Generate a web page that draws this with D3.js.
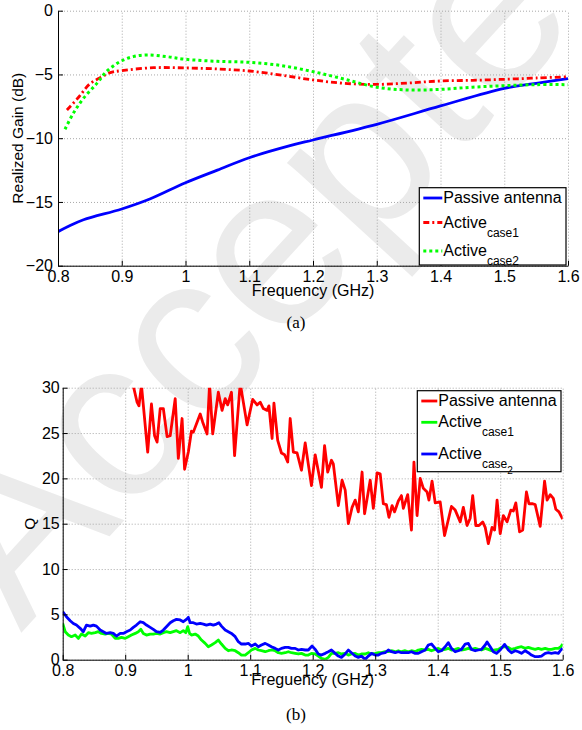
<!DOCTYPE html>
<html>
<head>
<meta charset="utf-8">
<script src="https://cdn.jsdelivr.net/npm/d3@7"></script>
<style>
  body { margin: 0; background: #fff; }
  svg text { font-family: "Liberation Sans", Arial, Helvetica, sans-serif; fill: #000; }
</style>
</head>
<body>
<svg id="chart" width="582" height="730"></svg>
<script>
// ---- data (a): realized gain ----
var freqTicks = [0.8, 0.9, 1.0, 1.1, 1.2, 1.3, 1.4, 1.5, 1.6];
var gainTicks = [0, -5, -10, -15, -20];
var qTicks = [0, 5, 10, 15, 20, 25, 30];

var passiveFreq = [0.8, 0.815, 0.84, 0.9, 0.944, 1.0, 1.05, 1.1, 1.164, 1.2, 1.3, 1.4, 1.5, 1.55, 1.6];
var passiveGain = [-17.33, -16.95, -16.4, -15.55, -14.77, -13.49, -12.5, -11.53, -10.59, -10.14, -8.91, -7.47, -6.09, -5.7, -5.33];

var case1Freq = [0.814, 0.833, 0.849, 0.866, 0.882, 0.9, 0.95, 1.0, 1.05, 1.1, 1.15, 1.2, 1.25, 1.3, 1.35, 1.4, 1.45, 1.5, 1.55, 1.6];
var case1Gain = [-7.79, -6.75, -5.78, -5.25, -4.86, -4.7, -4.47, -4.49, -4.57, -4.73, -5.05, -5.43, -5.7, -5.78, -5.67, -5.51, -5.46, -5.38, -5.28, -5.18];

var case2Freq = [0.811, 0.824, 0.84, 0.861, 0.876, 0.897, 0.918, 0.94, 0.97, 1.0, 1.05, 1.1, 1.15, 1.2, 1.25, 1.3, 1.35, 1.4, 1.45, 1.5, 1.55, 1.6];
var case2Gain = [-9.3, -8.05, -6.87, -5.7, -4.78, -4.0, -3.6, -3.47, -3.6, -3.81, -3.97, -4.05, -4.3, -4.78, -5.38, -6.0, -6.22, -6.17, -6.0, -5.88, -5.8, -5.8];

// ---- data (b): Q factor ----
var qPassiveFreq = [0.905, 0.913, 0.919, 0.922, 0.926, 0.936, 0.942, 0.947, 0.951, 0.956, 0.961, 0.967, 0.972, 0.98, 0.985, 0.991, 0.995,
  1.001, 1.006, 1.009, 1.015, 1.02, 1.024, 1.031, 1.035, 1.04, 1.049, 1.055, 1.06, 1.064, 1.07, 1.075, 1.084, 1.095,
  1.104, 1.111, 1.116, 1.121, 1.127, 1.13, 1.135, 1.138, 1.144, 1.15, 1.155, 1.16, 1.164, 1.169, 1.175, 1.182, 1.188, 1.198,
  1.204, 1.214, 1.219, 1.224, 1.23, 1.233, 1.241, 1.247, 1.252, 1.257, 1.263, 1.268, 1.273, 1.279, 1.283, 1.292, 1.297,
  1.303, 1.308, 1.313, 1.318, 1.322, 1.327, 1.331, 1.337, 1.342, 1.345, 1.352, 1.358, 1.362, 1.367, 1.372, 1.377, 1.383, 1.386, 1.391, 1.396,
  1.404, 1.411, 1.422, 1.428, 1.436, 1.441, 1.447, 1.452, 1.456, 1.461, 1.466, 1.472, 1.476, 1.481, 1.487, 1.491, 1.495,
  1.5, 1.505, 1.511, 1.517, 1.521, 1.525, 1.531, 1.536, 1.542, 1.546, 1.552, 1.556, 1.564, 1.571, 1.575, 1.58, 1.585, 1.589, 1.594, 1.6];
var qPassive = [32, 30.2, 28.4, 28.0, 30.3, 22.9, 28.2, 24.7, 24.0, 27.7, 27.7, 24.6, 24.7, 28.8, 22.2, 26.6, 21.0,
  22.9, 25.2, 25.1, 26.2, 27.1, 26.2, 24.9, 30.4, 24.9, 29.5, 27.5, 28.8, 28.1, 29.5, 22.5, 30.5, 25.9,
  28.7, 28.1, 28.4, 27.7, 27.5, 28.0, 24.4, 28.3, 24.2, 22.8, 22.6, 21.8, 26.6, 22.9, 22.8, 20.9, 23.9, 19.2,
  22.6, 19.0, 23.6, 20.7, 22.0, 21.6, 17.0, 19.8, 18.7, 15.0, 16.8, 17.6, 16.3, 20.7, 16.1, 19.8, 16.7,
  20.6, 20.5, 17.2, 17.1, 15.7, 17.0, 16.3, 17.5, 18.1, 16.7, 18.2, 14.3, 21.8, 15.9, 20.0, 18.9, 18.5, 17.6, 19.7, 17.3,
  17.4, 13.7, 16.9, 16.5, 15.2, 16.8, 14.8, 15.6, 18.1, 14.8, 14.8, 15.2, 14.6, 12.8, 14.6, 14.3, 17.6,
  13.9, 15.9, 15.2, 16.5, 16.4, 17.3, 14.1, 14.3, 18.5, 17.2, 17.2, 17.1, 14.7, 19.7, 17.6, 18.2, 17.8, 16.6, 16.3, 15.5];

var qCase1Freq = [0.8, 0.804, 0.809, 0.814, 0.82, 0.825, 0.83, 0.836, 0.841, 0.846, 0.852, 0.857, 0.862, 0.868, 0.873, 0.878,
  0.884, 0.889, 0.894, 0.9, 0.905, 0.91, 0.916, 0.921, 0.925, 0.929, 0.934, 0.94, 0.945, 0.95, 0.956, 0.961, 0.966, 0.972,
  0.977, 0.982, 0.988, 0.993, 0.997, 1.0, 1.003, 1.006, 1.012, 1.017, 1.022, 1.028, 1.033, 1.038, 1.044, 1.049, 1.054,
  1.06, 1.065, 1.07, 1.076, 1.081, 1.086, 1.092, 1.097, 1.102, 1.108, 1.113, 1.118, 1.124, 1.129, 1.134, 1.14, 1.145,
  1.15, 1.156, 1.161, 1.166, 1.172, 1.177, 1.182, 1.188, 1.193, 1.198, 1.204, 1.209, 1.214, 1.22, 1.225, 1.23, 1.236,
  1.241, 1.246, 1.252, 1.257, 1.262, 1.268, 1.273, 1.278, 1.284, 1.289, 1.294, 1.3, 1.305, 1.31, 1.316, 1.321, 1.326,
  1.332, 1.337, 1.342, 1.348, 1.353, 1.358, 1.364, 1.369, 1.374, 1.38, 1.385, 1.39, 1.396, 1.401, 1.406, 1.412, 1.417,
  1.422, 1.428, 1.433, 1.438, 1.444, 1.449, 1.454, 1.46, 1.465, 1.47, 1.476, 1.481, 1.486, 1.492, 1.497, 1.502, 1.508,
  1.513, 1.518, 1.524, 1.529, 1.534, 1.54, 1.545, 1.55, 1.556, 1.561, 1.566, 1.572, 1.577, 1.582, 1.588, 1.593, 1.597, 1.6];
var qCase1 = [4.0, 3.09, 2.72, 2.54, 2.72, 2.35, 2.83, 2.61, 2.98, 2.9, 2.98, 3.09, 2.9, 2.83, 2.9, 2.83,
  2.35, 2.35, 2.46, 2.35, 2.54, 2.72, 2.9, 3.09, 3.35, 2.9, 2.72, 2.83, 2.83, 2.9, 2.83, 2.98, 3.09, 2.98,
  3.09, 3.2, 2.98, 3.2, 2.98, 3.64, 2.9, 2.72, 2.83, 2.61, 2.17, 1.8, 1.43, 1.62, 1.88, 2.17, 1.73,
  1.25, 0.99, 1.07, 0.99, 0.77, 0.51, 0.51, 0.77, 1.07, 1.25, 1.07, 0.99, 0.88, 0.99, 1.07, 0.99, 0.77,
  0.7, 0.77, 0.88, 0.77, 0.7, 0.63, 0.7, 0.51, 0.51, 0.7, 0.63, 0.4, 0.15, 0.04, 0.26, 0.7, 0.7,
  0.77, 0.63, 0.7, 0.51, 0.63, 0.7, 0.51, 0.63, 0.63, 0.77, 0.63, 0.7, 0.77, 0.77, 0.88, 0.88, 0.99,
  0.88, 0.99, 0.88, 0.99, 0.88, 0.99, 0.88, 1.07, 1.14, 1.07, 1.14, 0.99, 1.14, 1.25, 1.07, 1.14, 1.25,
  1.07, 1.14, 1.25, 1.07, 1.14, 1.25, 1.14, 1.25, 1.14, 1.07, 1.25, 1.14, 0.99, 1.07, 1.14, 1.36, 1.43,
  1.36, 1.14, 1.25, 1.36, 1.43, 1.25, 1.36, 1.25, 1.14, 1.25, 1.14, 1.25, 1.14, 1.14, 1.25, 1.25, 1.43, 1.73];

var qCase2Freq = [0.8, 0.806, 0.812, 0.817, 0.822, 0.828, 0.833, 0.838, 0.844, 0.849, 0.854, 0.86, 0.865, 0.87, 0.876, 0.881,
  0.886, 0.892, 0.897, 0.902, 0.908, 0.913, 0.918, 0.924, 0.929, 0.934, 0.94, 0.945, 0.95, 0.956, 0.961, 0.966, 0.972,
  0.977, 0.982, 0.988, 0.993, 0.998, 1.001, 1.004, 1.009, 1.014, 1.02, 1.025, 1.03, 1.036, 1.041, 1.046, 1.05, 1.054,
  1.06, 1.065, 1.07, 1.076, 1.081, 1.086, 1.092, 1.097, 1.102, 1.108, 1.113, 1.118, 1.124, 1.129, 1.134, 1.14, 1.145,
  1.15, 1.156, 1.161, 1.166, 1.172, 1.177, 1.182, 1.188, 1.193, 1.199, 1.204, 1.209, 1.214, 1.22, 1.225, 1.23, 1.236,
  1.241, 1.246, 1.252, 1.257, 1.262, 1.268, 1.273, 1.278, 1.284, 1.289, 1.294, 1.3, 1.305, 1.31, 1.316, 1.321, 1.326,
  1.332, 1.337, 1.342, 1.348, 1.353, 1.358, 1.364, 1.369, 1.374, 1.38, 1.385, 1.39, 1.396, 1.401, 1.406, 1.412, 1.417,
  1.422, 1.428, 1.433, 1.438, 1.444, 1.449, 1.454, 1.46, 1.465, 1.47, 1.476, 1.479, 1.484, 1.489, 1.494, 1.5, 1.507,
  1.513, 1.518, 1.524, 1.529, 1.534, 1.54, 1.545, 1.55, 1.556, 1.561, 1.566, 1.572, 1.577, 1.582, 1.588, 1.593, 1.597, 1.6];
var qCase2 = [5.3, 4.74, 4.3, 4.0, 3.82, 3.46, 3.09, 3.82, 3.7, 3.82, 3.7, 3.27, 3.09, 2.9, 2.98, 2.9,
  2.61, 2.9, 2.9, 3.09, 3.27, 3.57, 3.82, 4.19, 4.08, 3.82, 3.57, 3.35, 3.09, 3.01, 3.27, 3.64, 4.08,
  4.3, 4.45, 4.38, 4.19, 4.45, 4.67, 4.08, 4.08, 3.93, 4.0, 3.93, 3.82, 3.93, 3.82, 3.93, 4.08, 3.7,
  3.27, 3.09, 2.9, 2.54, 1.99, 1.73, 1.73, 1.8, 1.51, 1.73, 1.43, 1.62, 1.8, 1.62, 1.43, 1.25, 1.07,
  1.25, 1.36, 1.36, 1.25, 1.25, 1.07, 1.14, 1.07, 1.07, 1.51, 1.14, 0.63, 0.51, 0.7, 0.88, 1.07, 0.7,
  0.4, 0.26, 0.63, 1.07, 0.77, 0.4, 0.26, 0.4, 0.04, 0.4, 0.7, 0.51, 0.51, 0.7, 0.77, 1.07, 0.88,
  0.77, 0.88, 0.77, 0.77, 0.77, 0.88, 0.7, 0.7, 0.88, 1.07, 1.62, 1.73, 1.25, 0.88, 0.99, 1.43, 1.88,
  1.25, 0.88, 0.99, 1.14, 1.73, 1.8, 1.14, 0.99, 1.07, 1.14, 1.62, 1.95, 1.43, 0.88, 0.7, 1.07, 1.69,
  1.07, 0.77, 0.99, 0.88, 0.7, 0.99, 0.77, 0.51, 0.33, 0.33, 0.4, 0.7, 0.77, 0.7, 0.77, 0.7, 1.07, 1.25];

var gainLegend = ["Passive antenna", "Active|case1", "Active|case2"];
var qLegend = ["Passive antenna", "Active|case1", "Active|case|2"];

var svg = d3.select("#chart");

// watermark behind everything
svg.append("text")
  .attr("transform", "translate(21,633) rotate(-47.5)")
  .attr("font-size", 230)
  .style("fill", "#ebebeb")
  .text("Accepted");

function zip(xs, ys) {
  return xs.map(function(x, i) { return [x, ys[i]]; });
}

function drawPanel(p) {
  var g = svg.append("g");
  var x = d3.scaleLinear().domain([0.8, 1.6]).range([p.left, p.right]);
  var y = d3.scaleLinear().domain(p.yDomain).range([p.bottom, p.top]);
  var w = p.right - p.left, h = p.bottom - p.top;

  // dotted grid
  g.append("g").attr("transform", "translate(0," + p.bottom + ")")
    .call(d3.axisBottom(x).tickValues(freqTicks).tickSize(-h).tickFormat(""))
    .call(function(s) {
      s.select(".domain").remove();
      s.selectAll("line").attr("stroke", "#a8a8a8").attr("stroke-dasharray", "1,2");
    });
  g.append("g").attr("transform", "translate(" + p.left + ",0)")
    .call(d3.axisLeft(y).tickValues(p.yTicks).tickSize(-w).tickFormat(""))
    .call(function(s) {
      s.select(".domain").remove();
      s.selectAll("line").attr("stroke", "#a8a8a8").attr("stroke-dasharray", "1,2");
    });

  var clipId = "clip" + p.id;
  svg.append("clipPath").attr("id", clipId).append("rect")
    .attr("x", p.left).attr("y", p.top).attr("width", w).attr("height", h);

  var line = d3.line().x(function(d) { return x(d[0]); }).y(function(d) { return y(d[1]); })
    .curve(p.curve);
  var lines = g.append("g").attr("clip-path", "url(#" + clipId + ")");
  p.series.forEach(function(s) {
    lines.append("path").datum(zip(s.x, s.y))
      .attr("fill", "none").attr("stroke", s.color).attr("stroke-width", s.width)
      .attr("stroke-dasharray", s.dash || null)
      .attr("stroke-linejoin", "round")
      .attr("d", line);
  });

  // axes, ticks pointing inward
  g.append("g").attr("transform", "translate(0," + p.bottom + ")")
    .call(d3.axisBottom(x).tickValues(freqTicks).tickSizeInner(-5).tickSizeOuter(0)
      .tickPadding(5).tickFormat(d3.format("~g")))
    .call(function(s) {
      s.select(".domain").attr("stroke", "#000");
      s.selectAll("text").attr("font-size", p.tickFont).style("font-family", "Liberation Sans, Arial, sans-serif");
    });
  g.append("g").attr("transform", "translate(" + p.left + ",0)")
    .call(d3.axisLeft(y).tickValues(p.yTicks).tickSizeInner(-5).tickSizeOuter(0)
      .tickPadding(p.yPad).tickFormat(d3.format("~g")))
    .call(function(s) {
      s.select(".domain").attr("stroke", "#000");
      s.selectAll("text").attr("font-size", p.tickFont).style("font-family", "Liberation Sans, Arial, sans-serif");
    });

  // axis titles
  g.append("text").attr("x", (p.left + p.right) / 2).attr("y", p.xTitleY)
    .attr("text-anchor", "middle").attr("font-size", 16).text(p.xTitle);
  g.append("text").attr("transform", "translate(" + p.yTitleX + "," + ((p.top + p.bottom) / 2) + ") rotate(-90)")
    .attr("text-anchor", "middle").attr("font-size", 15.5).text(p.yTitle);

  // caption
  svg.append("text").attr("x", p.capX).attr("y", p.capY).attr("text-anchor", "middle")
    .attr("font-size", 17).style("font-family", "Liberation Serif, Times New Roman, serif")
    .text(p.caption);

  // legend
  var L = p.legend;
  var lg = g.append("g");
  lg.append("rect").attr("x", L.x).attr("y", L.y).attr("width", L.w).attr("height", L.h)
    .attr("fill", "#fff").attr("stroke", "#000").attr("stroke-width", 1.2);
  p.series.forEach(function(s, i) {
    var ly = L.rows[i];
    lg.append("line").attr("x1", L.x + 4).attr("x2", L.x + L.sample).attr("y1", ly).attr("y2", ly)
      .attr("stroke", s.color).attr("stroke-width", s.width).attr("stroke-dasharray", s.dash || null);
    var parts = L.labels[i].split("|");
    var t = lg.append("text").attr("x", L.x + L.sample + 1).attr("y", ly + 5).attr("font-size", 16);
    t.append("tspan").text(parts[0]);
    if (parts[1]) t.append("tspan").attr("font-size", 12).attr("dy", 9).text(parts[1]);
    if (parts[2]) t.append("tspan").attr("font-size", 10).attr("dy", 6).text(parts[2]);
  });
}

drawPanel({
  id: "a", left: 58, right: 568, top: 10.7, bottom: 265.7,
  yDomain: [-20, 0], yTicks: gainTicks, tickFont: 16, yPad: 5,
  curve: d3.curveCatmullRom,
  xTitle: "Frequency (GHz)", xTitleY: 296, yTitle: "Realized Gain (dB)", yTitleX: 22.5,
  caption: "(a)", capX: 296, capY: 328,
  series: [
    { x: passiveFreq, y: passiveGain, color: "#0000ff", width: 2.8 },
    { x: case1Freq, y: case1Gain, color: "#ff0000", width: 2.8, dash: "6,3,2,3" },
    { x: case2Freq, y: case2Gain, color: "#00ff00", width: 3, dash: "3,3" }
  ],
  legend: { x: 419.3, y: 187.7, w: 146.7, h: 77.3, sample: 23, rows: [198, 222.5, 251], labels: gainLegend }
});

drawPanel({
  id: "b", left: 62.7, right: 562.7, top: 387.7, bottom: 659.7,
  yDomain: [0, 30], yTicks: qTicks, tickFont: 16, yPad: 3,
  curve: d3.curveLinear,
  xTitle: "Freguency (GHz)", xTitleY: 685, yTitle: "Q", yTitleX: 35,
  caption: "(b)", capX: 296, capY: 720,
  series: [
    { x: qPassiveFreq, y: qPassive, color: "#ff0000", width: 2.8 },
    { x: qCase1Freq, y: qCase1, color: "#00ff00", width: 2.8 },
    { x: qCase2Freq, y: qCase2, color: "#0000ff", width: 2.8 }
  ],
  legend: { x: 417.3, y: 390.7, w: 143.7, h: 81, sample: 20, rows: [401, 422.3, 454], labels: qLegend }
});
</script>
</body>
</html>
